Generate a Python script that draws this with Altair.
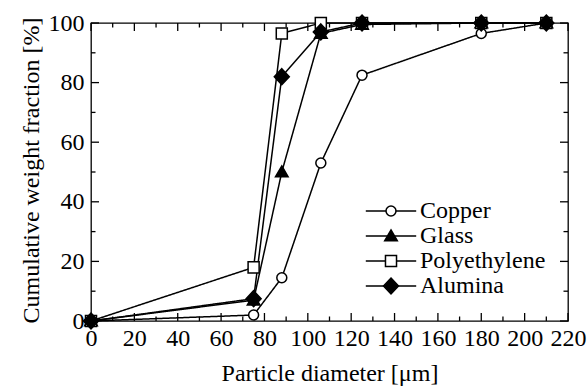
import altair as alt
import pandas as pd

# ---- data ----
diameters = [0, 75, 88, 106, 125, 180, 210]
copper = [0, 2, 14.5, 53, 82.5, 96.5, 100]
glass = [0, 7, 50, 96.5, 99.5, 100, 100]
polyethylene = [0, 18, 96.5, 100, 100, 100, 100]
alumina = [0, 7.5, 82, 97, 100, 100, 100]
series_names = ["Copper", "Glass", "Polyethylene", "Alumina"]

x_major = [0, 20, 40, 60, 80, 100, 120, 140, 160, 180, 200, 220]
x_minor = [10, 30, 50, 70, 90, 110, 130, 150, 170, 190, 210]
y_major = [0, 20, 40, 60, 80, 100]
y_minor = [10, 30, 50, 70, 90]

rows = []
for name, vals in zip(series_names, [copper, glass, polyethylene, alumina]):
    for i, (d, v) in enumerate(zip(diameters, vals)):
        rows.append({"series": name, "name": name, "d": d, "v": v, "i": i})
df = pd.DataFrame(rows)

W, H = 477, 298
FONT = "Liberation Serif, Times New Roman, serif"

xs = alt.Scale(domain=[0, 220], nice=False, zero=False)
ys = alt.Scale(domain=[0, 100], nice=False, zero=False)

# custom marker shapes (unit = sqrt(size)/2 px)
circle = "M0.83,0A0.83,0.83 0 1,1 -0.83,0A0.83,0.83 0 1,1 0.83,0Z"
triangle = "M0,-1L1.05,0.8L-1.05,0.8Z"
square = "M-0.92,-0.92H0.92V0.92H-0.92Z"
diamond = "M0,-1.33L1.25,0L0,1.33L-1.25,0Z"

LEG_X, LEG_Y = 288, 176


def legend(label_color, **kw):
    return alt.Legend(orient="none", legendX=LEG_X, legendY=LEG_Y,
                      title=None, padding=0, symbolSize=144,
                      symbolStrokeWidth=1.5, symbolStrokeColor="black",
                      labelOffset=17, rowPadding=1,
                      labelFontSize=24, labelFont=FONT, labelColor=label_color, **kw)


lines = alt.Chart(df).mark_line(strokeWidth=1.5, color="black").encode(
    x=alt.X("d:Q", scale=xs,
            axis=alt.Axis(values=x_major, title="Particle diameter [μm]",
                          titleY=59, titleBaseline="alphabetic", labelPadding=5)),
    y=alt.Y("v:Q", scale=ys,
            axis=alt.Axis(values=y_major, title="Cumulative weight fraction [%]",
                          titleX=-53, titleY=147, titleBaseline="alphabetic",
                          titleAlign="center", labelPadding=7)),
    order="i:Q",
    strokeDash=alt.StrokeDash("name:N", sort=series_names,
                              scale=alt.Scale(range=[[1, 0]] * 4),
                              legend=legend("black", symbolType="M-4.2,0H4.2")),
)

points = alt.Chart(df).mark_point(filled=True, size=144, strokeWidth=1.5, opacity=1).encode(
    x=alt.X("d:Q", scale=xs),
    y=alt.Y("v:Q", scale=ys),
    shape=alt.Shape("series:N",
                    scale=alt.Scale(domain=series_names,
                                    range=[circle, triangle, square, diamond]),
                    legend=legend("rgba(0,0,0,0)")),
    fill=alt.Fill("series:N",
                  scale=alt.Scale(domain=series_names,
                                  range=["white", "black", "white", "black"]),
                  legend=legend("rgba(0,0,0,0)")),
    stroke=alt.Stroke("series:N",
                      scale=alt.Scale(domain=series_names, range=["black"] * 4),
                      legend=legend("rgba(0,0,0,0)")),
)


# inward tick marks: one-sided line segments drawn as point symbols
TICK_UP = "M0,0L0,-1"
TICK_DOWN = "M0,0L0,1"
TICK_RIGHT = "M0,0L1,0"
TICK_LEFT = "M0,0L-1,0"


def tick_marks(vals, axis, length):
    d = pd.DataFrame({"tickval": vals})
    size = (2 * length) ** 2

    def mk(shape):
        return alt.Chart(d).mark_point(shape=shape, size=size, filled=False,
                                       stroke="black", strokeWidth=1.3,
                                       opacity=1, clip=False)

    if axis == "x":
        bottom = mk(TICK_UP).encode(x=alt.X("tickval:Q", scale=xs),
                                    y=alt.Y(datum=0, scale=ys))
        top = mk(TICK_DOWN).encode(x=alt.X("tickval:Q", scale=xs),
                                   y=alt.Y(datum=100, scale=ys))
        return [bottom, top]
    left = mk(TICK_RIGHT).encode(y=alt.Y("tickval:Q", scale=ys),
                                 x=alt.X(datum=0, scale=xs))
    right = mk(TICK_LEFT).encode(y=alt.Y("tickval:Q", scale=ys),
                                 x=alt.X(datum=220, scale=xs))
    return [left, right]


ticks = (tick_marks(x_major, "x", 8) + tick_marks(x_minor, "x", 4.5)
         + tick_marks(y_major, "y", 8) + tick_marks(y_minor, "y", 4.5))

chart = alt.layer(*ticks, lines, points).properties(
    width=W, height=H,
    background="white",
    autosize=alt.AutoSizeParams(type="none"),
    padding={"left": 91, "top": 23, "right": 19, "bottom": 67},
).configure_view(
    stroke="black", strokeWidth=1.3
).configure_axis(
    domain=False, ticks=False, tickSize=0, grid=False,
    labelOverlap=False, labelFlush=False,
    labelFont=FONT, labelFontSize=24, labelColor="black",
    titleFont=FONT, titleFontSize=24, titleColor="black", titleFontWeight="normal",
)

chart.save("out.html", embed_options={"renderer": "svg", "actions": False})
